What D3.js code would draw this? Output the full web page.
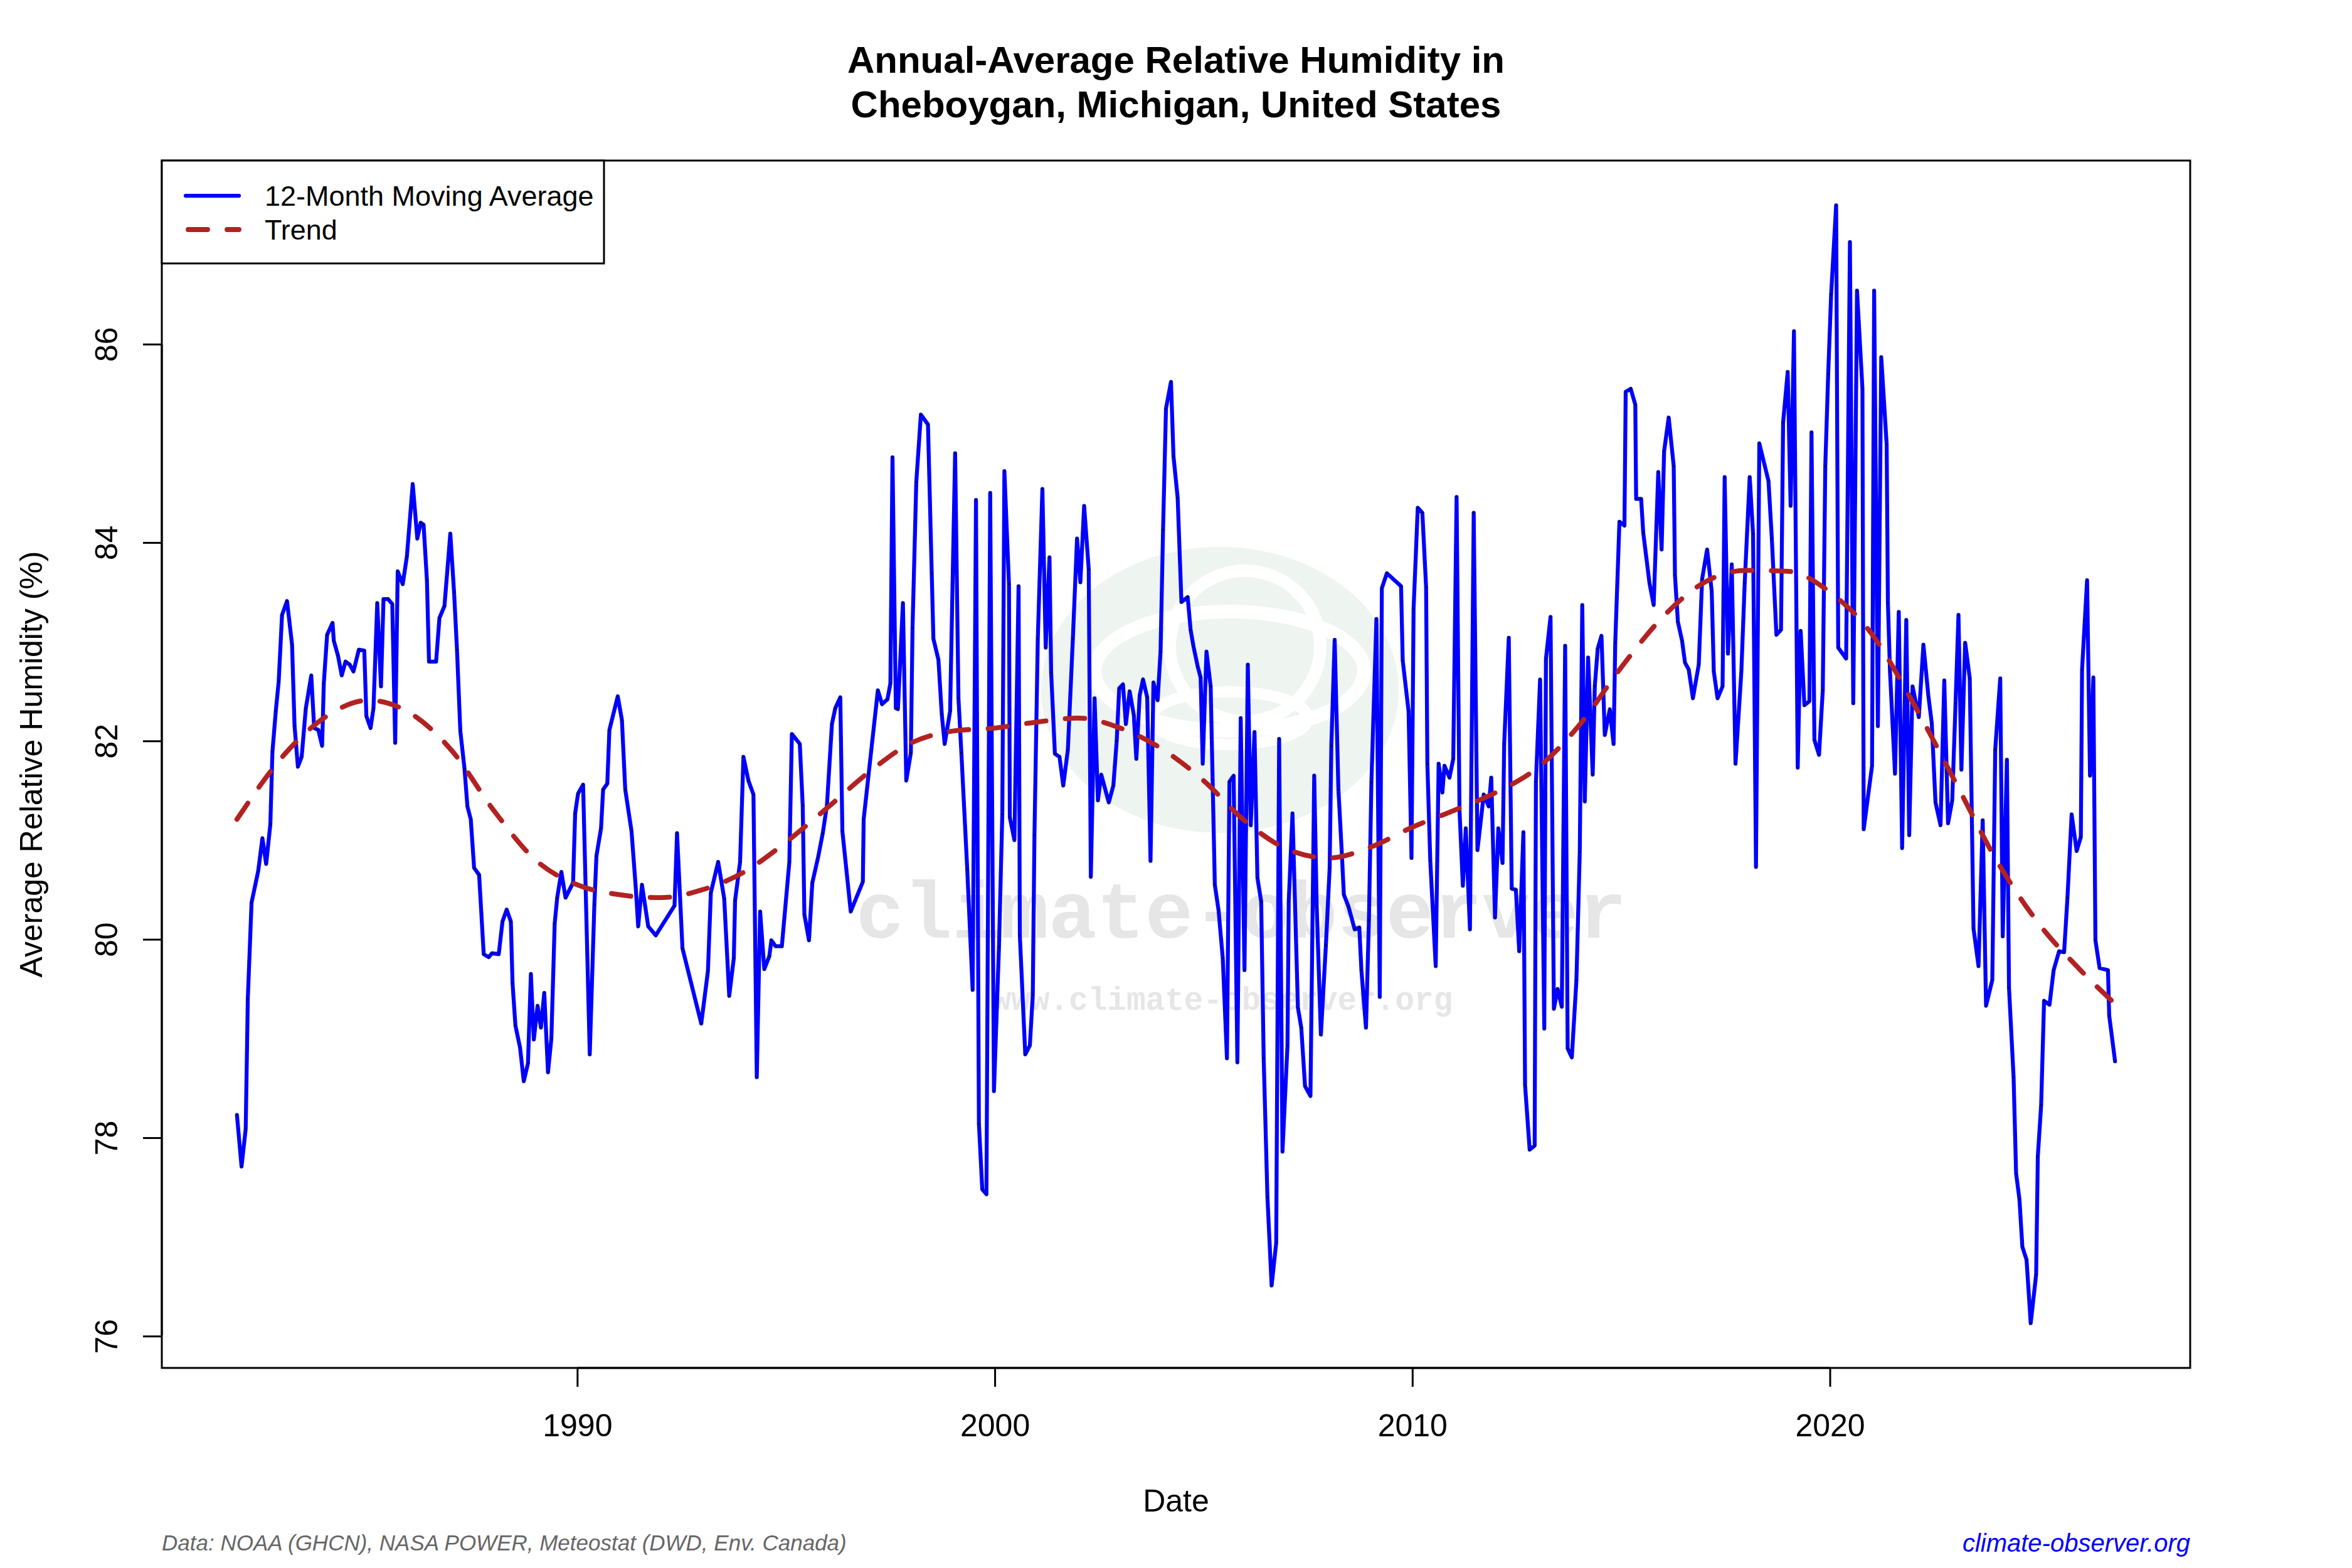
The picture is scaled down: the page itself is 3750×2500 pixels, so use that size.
<!DOCTYPE html>
<html>
<head>
<meta charset="utf-8">
<script src="https://cdn.jsdelivr.net/npm/d3@7"></script>
<style>
  body { margin: 0; background: #fff; }
  text { font-family: "Liberation Sans", Arial, Helvetica, sans-serif; }
</style>
</head>
<body>
<svg id="chart" width="3750" height="2500"></svg>
<script>
// 12-month moving average, decimal year / relative humidity (%)
const dates = [
  1981.85,1981.96,1982.06,1982.11,1982.20,1982.36,1982.46,1982.55,1982.65,1982.70,1982.78,1982.85,1982.93,1983.05,1983.17,1983.23,1983.31,1983.40,1983.50,1983.63,1983.70,1983.80,1983.89,1983.93,1984.01,1984.14,1984.17,1984.27,1984.36,1984.45,1984.55,1984.64,1984.77,1984.90,1984.95,1985.05,1985.12,1985.21,1985.30,1985.36,1985.47,1985.57,1985.64,1985.70,1985.82,1985.92,1986.06,1986.17,1986.25,1986.32,1986.40,1986.45,1986.62,1986.70,1986.82,1986.96,1987.05,1987.12,1987.20,1987.30,1987.37,1987.45,
  1987.53,1987.65,1987.76,1987.88,1987.96,1988.12,1988.21,1988.31,1988.41,1988.45,1988.52,1988.63,1988.72,1988.82,1988.89,1988.96,1989.05,1989.13,1989.21,1989.30,1989.38,1989.46,1989.52,1989.62,1989.72,1989.90,1989.95,1990.02,1990.14,1990.30,1990.41,1990.46,1990.57,1990.62,1990.72,1990.77,1990.97,1991.07,1991.15,1991.30,1991.40,1991.46,1991.55,1991.70,1991.88,1992.33,1992.39,1992.52,1992.97,1993.13,1993.20,1993.375,
  1993.52,1993.64,1993.75,1993.78,1993.90,1993.98,1994.10,1994.22,1994.30,1994.38,1994.48,1994.60,1994.65,1994.75,1994.90,1995.08,1995.14,1995.33,1995.40,1995.44,1995.55,1995.63,1995.77,1995.88,1995.98,1996.10,1996.18,1996.30,1996.35,1996.55,1996.84,1996.86,1996.98,1997.20,1997.30,1997.43,1997.50,1997.55,1997.63,1997.68,1997.80,1997.88,1997.99,1998.03,1998.12,1998.23,1998.40,1998.49,1998.53,1998.65,1998.73,1998.80,1998.93,
  1999.05,1999.13,1999.20,1999.34,1999.47,1999.55,1999.62,1999.70,1999.80,1999.89,1999.98,2000.10,2000.18,2000.23,2000.34,2000.36,2000.47,2000.57,2000.60,2000.73,2000.84,2000.91,2000.95,2001.03,2001.14,2001.22,2001.31,2001.35,2001.44,2001.55,2001.64,2001.75,2001.87,2001.97,2002.05,2002.14,2002.25,2002.30,2002.39,2002.47,2002.55,2002.73,2002.84,2002.92,2002.98,2003.07,2003.14,2003.23,2003.33,2003.39,2003.47,2003.55,2003.65,2003.73,2003.80,2003.90,2003.97,2004.03,2004.10,2004.22,2004.28,2004.38,2004.47,
  2004.62,2004.69,2004.76,2004.86,2004.93,2004.98,2005.07,2005.17,2005.27,2005.36,2005.46,2005.56,2005.62,2005.72,2005.81,2005.89,2005.98,2006.06,2006.13,2006.22,2006.29,2006.38,2006.44,2006.53,2006.63,2006.74,2006.81,2006.89,2007.01,2007.04,2007.13,2007.26,2007.34,2007.43,2007.56,2007.65,2007.71,2007.81,2007.93,2008.02,2008.06,2008.14,2008.23,2008.31,2008.36,2008.47,2008.62,2008.73,2008.78,2008.89,2008.96,2009.02,2009.14,2009.22,2009.27,2009.39,2009.73,2009.77,2009.91,2009.98,2010.03,
  2010.13,2010.24,2010.33,2010.36,2010.43,2010.56,2010.63,2010.72,2010.77,2010.89,2010.98,2011.06,2011.13,2011.21,2011.28,2011.38,2011.47,2011.56,2011.71,2011.83,2011.89,2011.98,2012.06,2012.16,2012.20,2012.31,2012.38,2012.48,2012.56,2012.66,2012.70,2012.81,2012.93,2012.96,2013.06,2013.16,2013.20,2013.31,2013.39,2013.48,2013.58,2013.66,2013.72,2013.82,2013.93,2014.01,2014.07,2014.13,2014.21,2014.32,2014.37,2014.44,2014.53,2014.61,2014.73,2014.82,2014.86,2014.96,2015.08,2015.11,2015.23,2015.34,2015.36,2015.48,2015.53,2015.68,2015.78,
  2015.89,2015.97,2016.03,2016.14,2016.26,2016.29,2016.36,2016.46,2016.53,2016.62,2016.72,2016.86,2016.94,2017.06,2017.17,2017.22,2017.31,2017.43,2017.48,2017.56,2017.65,2017.74,2017.88,2017.96,2018.08,2018.16,2018.23,2018.31,2018.53,2018.61,2018.72,2018.83,2018.88,2018.99,2019.06,2019.14,2019.23,2019.30,2019.39,2019.51,2019.56,2019.63,2019.74,2019.83,2019.89,2019.96,2020.03,2020.15,2020.20,2020.39,2020.48,2020.56,2020.65,2020.78,2020.81,2021.01,2021.06,2021.15,2021.23,2021.36,2021.39,2021.44,2021.56,
  2021.65,2021.73,2021.83,2021.90,2021.98,2022.13,2022.24,2022.36,2022.44,2022.53,2022.65,2022.74,2022.83,2022.93,2023.01,2023.08,2023.15,2023.24,2023.35,2023.44,2023.56,2023.66,2023.74,2023.89,2023.96,2024.08,2024.14,2024.24,2024.29,2024.40,2024.46,2024.54,2024.61,2024.71,2024.81,2024.94,2024.98,2025.06,2025.13,2025.26,2025.36,2025.49,2025.61,2025.69,2025.79,2025.91,2026.01,2026.04,2026.16,2026.23,2026.31,2026.36,2026.46,2026.66,2026.69,2026.83
];
const humidity = [
  78.23,77.71,78.09,79.40,80.37,80.69,81.02,80.76,81.16,81.89,82.30,82.60,83.27,83.41,82.97,82.15,81.74,81.84,82.33,82.66,82.13,82.11,81.95,82.58,83.07,83.19,83.01,82.86,82.66,82.80,82.77,82.70,82.92,82.91,82.25,82.13,82.33,83.39,82.55,83.43,83.43,83.38,81.98,83.71,83.58,83.86,84.59,84.04,84.20,84.18,83.62,82.80,82.80,83.24,83.36,84.09,83.50,82.92,82.10,81.72,81.34,81.21,
  80.72,80.65,79.85,79.82,79.86,79.85,80.18,80.30,80.18,79.56,79.13,78.91,78.57,78.75,79.65,78.99,79.33,79.11,79.46,78.66,79.00,80.16,80.42,80.68,80.42,80.57,81.27,81.47,81.56,78.84,80.35,80.84,81.12,81.51,81.57,82.11,82.45,82.21,81.51,81.09,80.53,80.13,80.55,80.13,80.04,80.34,81.07,79.91,79.15,79.68,80.47,80.78,
  80.41,79.43,79.81,80.39,80.78,81.84,81.60,81.46,78.61,80.28,79.70,79.83,79.99,79.93,79.93,80.78,82.07,81.97,81.35,80.25,79.99,80.57,80.83,81.07,81.35,82.17,82.33,82.44,81.09,80.28,80.58,81.21,81.67,82.51,82.37,82.42,82.58,84.86,82.33,82.32,83.39,81.60,81.88,83.14,84.61,85.29,85.19,83.69,83.03,82.82,82.27,81.97,82.30,
  84.90,82.43,81.88,80.71,79.49,84.43,78.14,77.48,77.43,84.50,78.47,79.92,81.26,84.72,83.58,81.23,81.00,83.56,80.04,78.84,78.93,79.44,81.05,83.03,84.54,82.94,83.85,82.69,81.87,81.84,81.55,81.91,83.03,84.04,83.60,84.37,83.73,80.63,82.43,81.40,81.66,81.38,81.55,82.00,82.53,82.57,82.17,82.50,82.26,81.82,82.46,82.62,82.44,80.79,82.59,82.41,82.90,84.13,85.35,85.62,84.87,84.45,83.40,
  83.45,83.12,82.95,82.75,82.64,81.77,82.90,82.55,80.55,80.29,79.81,78.80,81.59,81.65,78.76,82.23,79.69,82.77,81.15,82.09,80.62,80.38,78.80,77.40,76.51,76.94,82.02,77.86,78.93,80.38,81.27,79.31,79.11,78.52,78.42,81.65,80.33,79.04,79.94,80.72,81.95,83.02,81.51,80.88,80.45,80.33,80.10,80.12,79.69,79.11,80.19,81.58,83.23,79.42,83.54,83.69,83.56,82.81,82.30,80.82,83.33,
  84.35,84.30,83.55,81.77,80.79,79.73,81.77,81.48,81.75,81.63,81.82,84.46,81.30,80.54,81.12,80.10,84.30,80.90,81.46,81.34,81.63,80.22,81.12,80.77,81.97,83.04,80.51,80.50,79.88,81.08,78.53,77.88,77.92,81.59,82.62,79.10,82.83,83.25,79.30,79.50,79.32,82.96,78.90,78.81,79.59,80.88,83.37,81.39,82.84,81.66,82.55,82.93,83.06,82.06,82.32,81.97,82.99,84.21,84.17,85.52,85.55,85.39,84.44,84.44,84.10,83.59,83.37,
  84.71,83.93,84.92,85.26,84.77,83.67,83.20,83.01,82.79,82.72,82.43,82.77,83.63,83.93,83.51,82.70,82.43,82.55,84.66,82.88,83.78,81.77,82.70,83.59,84.66,84.09,80.73,85.00,84.62,84.04,83.07,83.12,85.21,85.72,84.37,86.13,81.73,83.11,82.36,82.40,85.11,82.01,81.86,82.51,84.77,85.70,86.50,87.40,82.94,82.83,87.03,82.38,86.54,85.55,81.11,81.75,86.54,82.15,85.87,84.99,83.39,82.70,81.67,
  83.30,80.92,83.22,81.05,82.55,82.24,82.97,82.45,82.18,81.38,81.15,82.61,81.17,81.40,82.38,83.27,81.71,82.99,82.63,80.11,79.73,81.20,79.33,79.59,81.91,82.63,80.03,81.81,79.51,78.61,77.64,77.38,76.90,76.77,76.13,76.62,77.81,78.33,79.38,79.34,79.69,79.88,79.87,80.42,81.26,80.89,81.03,82.72,83.62,81.65,82.64,79.99,79.71,79.69,79.23,78.77
];

// smoothed trend
const trendDates = [1981.85,1983,1984,1985,1986,1987,1988,1989,1990,1991,1992,1993,1994,1995,1996,1997,1998,1999,2000,2001,2002,2003,2004,2005,2006,2007,2008,2009,2010,2011,2012,2013,2014,2015,2016,2017,2018,2019,2020,2021,2022,2023,2024,2025,2026,2026.83];
const trendValues = [81.21,81.87,82.25,82.41,82.28,81.90,81.30,80.80,80.55,80.45,80.42,80.50,80.68,80.98,81.33,81.69,81.98,82.10,82.13,82.19,82.23,82.13,81.92,81.60,81.19,80.91,80.82,80.93,81.13,81.30,81.48,81.73,82.16,82.74,83.25,83.60,83.72,83.71,83.50,83.08,82.38,81.59,80.79,80.16,79.69,79.35];

const xTicks = [1990, 2000, 2010, 2020];
const yTicks = [76, 78, 80, 82, 84, 86];

const seriesName = "12-Month Moving Average";
const trendName = "Trend";

const plot = { left: 258, right: 3492, top: 256, bottom: 2181 };
const font = "'Liberation Sans', Arial, Helvetica, sans-serif";

const series = dates.map((d, i) => ({ x: d, y: humidity[i] }));
const trend = trendDates.map((d, i) => ({ x: d, y: trendValues[i] }));

// R style 4% padding
function padded(ext) {
  const r = ext[1] - ext[0];
  return [ext[0] - 0.04 * r, ext[1] + 0.04 * r];
}

const x = d3.scaleLinear().domain(padded(d3.extent(dates))).range([plot.left, plot.right]);
const y = d3.scaleLinear().domain(padded(d3.extent(humidity))).range([plot.bottom, plot.top]);

const svg = d3.select("#chart");
svg.append("rect").attr("width", 3750).attr("height", 2500).attr("fill", "#fff");

// watermark
const wm = svg.append("g");
wm.append("ellipse").attr("cx", 1945).attr("cy", 1100).attr("rx", 285).attr("ry", 228).attr("fill", "#EEF4F0");
wm.append("ellipse").attr("cx", 1960).attr("cy", 1070).attr("rx", 215).attr("ry", 95)
  .attr("fill", "none").attr("stroke", "#fff").attr("stroke-width", 22);
wm.append("ellipse").attr("cx", 1960).attr("cy", 1145).attr("rx", 125).attr("ry", 42)
  .attr("fill", "none").attr("stroke", "#fff").attr("stroke-width", 18);
wm.append("circle").attr("cx", 1985).attr("cy", 1030).attr("r", 120)
  .attr("fill", "none").attr("stroke", "#fff").attr("stroke-width", 20);
wm.append("text").attr("x", 1979).attr("y", 1495).attr("text-anchor", "middle")
  .style("font-family", "'Liberation Mono', 'DejaVu Sans Mono', monospace")
  .style("font-weight", "bold").style("font-size", "128px").attr("fill", "#E6E6E6")
  .text("climate-observer");
wm.append("text").attr("x", 1949).attr("y", 1610).attr("text-anchor", "middle")
  .style("font-family", "'Liberation Mono', 'DejaVu Sans Mono', monospace")
  .style("font-weight", "bold").style("font-size", "51px").attr("fill", "#E6E6E6")
  .text("www.climate-observer.org");

// series
const line = d3.line().x(d => x(d.x)).y(d => y(d.y));
svg.append("path")
  .datum(series)
  .attr("d", line)
  .attr("fill", "none")
  .attr("stroke", "#0000FF")
  .attr("stroke-width", 6.25)
  .attr("stroke-linejoin", "round")
  .attr("stroke-linecap", "round");

svg.append("g")
  .selectAll("circle")
  .data(series)
  .enter()
  .append("circle")
  .attr("cx", d => x(d.x))
  .attr("cy", d => y(d.y))
  .attr("r", 1.8)
  .attr("fill", "#000")
  .attr("opacity", 0.7);

const trendLine = d3.line().x(d => x(d.x)).y(d => y(d.y)).curve(d3.curveMonotoneX);
svg.append("path")
  .datum(trend)
  .attr("d", trendLine)
  .attr("fill", "none")
  .attr("stroke", "#B22222")
  .attr("stroke-width", 7.8)
  .attr("stroke-dasharray", "31,31")
  .attr("stroke-linecap", "round");

// box
svg.append("rect")
  .attr("x", plot.left).attr("y", plot.top)
  .attr("width", plot.right - plot.left).attr("height", plot.bottom - plot.top)
  .attr("fill", "none").attr("stroke", "#000").attr("stroke-width", 3);

// x axis
const xAxis = svg.append("g").attr("transform", `translate(0,${plot.bottom})`)
  .call(d3.axisBottom(x).tickValues(xTicks).tickFormat(d3.format("d")).tickSize(30).tickPadding(0));
xAxis.select(".domain")
  .attr("d", `M${x(xTicks[0])},0H${x(xTicks[xTicks.length - 1])}`)
  .attr("stroke-width", 3);
xAxis.selectAll(".tick line").attr("stroke-width", 3);
xAxis.selectAll(".tick text")
  .attr("y", 109).attr("dy", null)
  .style("font-family", font).style("font-size", "50px").attr("fill", "#000");

// y axis
const yAxis = svg.append("g").attr("transform", `translate(${plot.left},0)`)
  .call(d3.axisLeft(y).tickValues(yTicks).tickSize(30));
yAxis.select(".domain")
  .attr("d", `M0,${y(yTicks[0])}V${y(yTicks[yTicks.length - 1])}`)
  .attr("stroke-width", 3);
yAxis.selectAll(".tick line").attr("stroke-width", 3);
yAxis.selectAll(".tick text")
  .attr("x", null).attr("dy", null)
  .attr("transform", "translate(-71,0) rotate(-90)")
  .attr("text-anchor", "middle")
  .style("font-family", font).style("font-size", "50px").attr("fill", "#000");

// titles
const title = svg.append("text").attr("text-anchor", "middle")
  .style("font-family", font).style("font-weight", "bold").style("font-size", "60px");
title.append("tspan").attr("x", (plot.left + plot.right) / 2).attr("y", 116).text("Annual-Average Relative Humidity in");
title.append("tspan").attr("x", (plot.left + plot.right) / 2).attr("y", 187).text("Cheboygan, Michigan, United States");

svg.append("text").attr("x", (plot.left + plot.right) / 2).attr("y", 2410)
  .attr("text-anchor", "middle").style("font-family", font).style("font-size", "50px").text("Date");

svg.append("text").attr("transform", `translate(67,${(plot.top + plot.bottom) / 2}) rotate(-90)`)
  .attr("text-anchor", "middle").style("font-family", font).style("font-size", "50px")
  .text("Average Relative Humidity (%)");

// legend
const legend = svg.append("g");
legend.append("rect").attr("x", plot.left).attr("y", plot.top).attr("width", 705).attr("height", 164)
  .attr("fill", "#fff").attr("stroke", "#000").attr("stroke-width", 3);
legend.append("line").attr("x1", 296).attr("x2", 381).attr("y1", 312).attr("y2", 312)
  .attr("stroke", "#0000FF").attr("stroke-width", 6.25).attr("stroke-linecap", "round");
legend.append("line").attr("x1", 300).attr("x2", 381).attr("y1", 366).attr("y2", 366)
  .attr("stroke", "#B22222").attr("stroke-width", 7.8).attr("stroke-dasharray", "31,31").attr("stroke-linecap", "round");
legend.append("text").attr("x", 422).attr("y", 328).style("font-family", font).style("font-size", "45px").text(seriesName);
legend.append("text").attr("x", 422).attr("y", 382).style("font-family", font).style("font-size", "45px").text(trendName);

// footer
svg.append("text").attr("x", plot.left).attr("y", 2472)
  .style("font-family", font).style("font-style", "italic").style("font-size", "35px").attr("fill", "#666666")
  .text("Data: NOAA (GHCN), NASA POWER, Meteostat (DWD, Env. Canada)");
svg.append("text").attr("x", plot.right).attr("y", 2474).attr("text-anchor", "end")
  .style("font-family", font).style("font-style", "italic").style("font-size", "40px").attr("fill", "#0000FF")
  .text("climate-observer.org");
</script>
</body>
</html>
